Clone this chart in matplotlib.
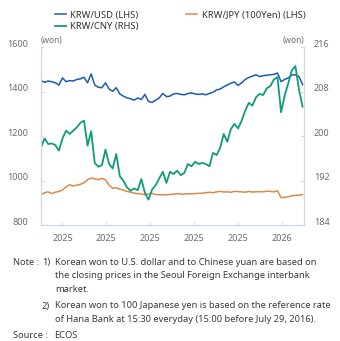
import matplotlib
matplotlib.use("Agg")
import matplotlib.pyplot as plt
import matplotlib.dates as mdates
import matplotlib.transforms as mtransforms
import pandas as pd

plt.rcParams["font.family"] = ["Noto Sans", "DejaVu Sans"]

# every 5 days, 2025-01-30 .. 2026-02-01
dates = pd.date_range("2025-01-30", periods=74, freq="5D")

usd = [1450, 1442, 1448, 1445, 1440, 1430, 1462, 1445, 1450, 1448,
       1455, 1458, 1465, 1440, 1480, 1430, 1420, 1418, 1440, 1412,
       1402, 1418, 1390, 1380, 1372, 1368, 1362, 1372, 1365, 1388,
       1356, 1352, 1362, 1372, 1392, 1378, 1380, 1390, 1392, 1388,
       1386, 1392, 1394, 1390, 1388, 1390, 1386, 1392, 1398, 1408,
       1412, 1422, 1430, 1438, 1444, 1428, 1440, 1455, 1464, 1470,
       1476, 1468, 1472, 1474, 1476, 1478, 1484, 1445, 1455, 1462,
       1475, 1476, 1468, 1432]

cny = [198.0, 199.6, 198.6, 198.7, 198.4, 197.4, 199.6, 201.0, 200.4, 201.0,
       201.6, 202.4, 202.8, 198.3, 200.9, 195.2, 194.5, 194.8, 197.6, 195.0,
       194.2, 196.8, 192.8, 192.0, 190.8, 190.2, 190.6, 190.3, 192.3, 189.8,
       188.6, 190.4, 191.2, 192.4, 193.6, 191.6, 193.6, 193.2, 193.8, 193.0,
       193.4, 195.0, 194.6, 195.4, 195.0, 195.2, 195.0, 194.6, 197.0, 196.6,
       197.9, 200.4, 199.0, 201.3, 202.2, 201.4, 202.8, 204.6, 206.0, 205.5,
       207.0, 207.6, 207.4, 208.6, 209.0, 210.2, 210.6, 204.3, 207.3, 209.5,
       211.8, 212.6, 208.4, 205.3]

jpy = [936, 946, 950, 942, 948, 952, 958, 972, 982, 976,
       980, 984, 990, 1005, 1012, 1008, 1005, 1010, 1004, 980,
       966, 968, 962, 958, 952, 948, 944, 942, 940, 937,
       940, 943, 938, 937, 936, 937, 938, 940, 942, 940,
       940, 941, 941, 942, 943, 944, 946, 948, 946, 950,
       952, 949, 950, 948, 952, 951, 950, 948, 952, 949,
       950, 951, 950, 953, 952, 950, 955, 924, 925, 928,
       932, 934, 935, 938]

tick_dates = ["2025-03-01", "2025-05-01", "2025-07-01", "2025-09-01",
              "2025-11-01", "2026-01-01"]

c_usd, c_cny, c_jpy = "#1c5bb0", "#119a7c", "#d98a4c"
spine_c = "#cdd8e8"
txt_c = "#6b6b6b"

fig = plt.figure(figsize=(3.4, 3.41), dpi=100)
ax = fig.add_axes([41/340, 1 - 225.2/341, 263/340, 178/341])
ax2 = ax.twinx()

l1, = ax.plot(dates, usd, color=c_usd, lw=1.1)
l3, = ax.plot(dates, jpy, color=c_jpy, lw=1.1)
l2, = ax2.plot(dates, cny, color=c_cny, lw=1.3)

ax.set_ylim(800, 1600)
ax2.set_ylim(184, 216)
ax.set_yticks([800, 1000, 1200, 1400, 1600])
ax2.set_yticks([184, 192, 200, 208, 216])
ax.set_xlim(pd.Timestamp("2025-01-30"), pd.Timestamp("2026-02-01"))
ax.set_xticks(pd.to_datetime(tick_dates))
ax.xaxis.set_major_formatter(mdates.DateFormatter("%Y"))

for a in (ax, ax2):
    for s in a.spines.values():
        s.set_color(spine_c)
        s.set_linewidth(0.8)
    a.spines["top"].set_visible(False)
    a.tick_params(direction="in", length=2.5, width=0.8, color=spine_c,
                  labelsize=6.5, labelcolor=txt_c)
ax.tick_params(axis="y", pad=9)
ax2.tick_params(axis="y", pad=7)
ax.tick_params(axis="x", pad=6)

off = mtransforms.ScaledTranslation(0, 3/72, fig.dpi_scale_trans)
for lab in ax.get_yticklabels() + ax2.get_yticklabels():
    lab.set_transform(lab.get_transform() + off)

fig.text(41/340, 1 - 40/341, "(won)", fontsize=6, color=txt_c, va="center")
fig.text(304/340, 1 - 40/341, "(won)", fontsize=6, color=txt_c, va="center", ha="right")

fig.legend([l1, l2, l3], ["KRW/USD (LHS)", "KRW/CNY (RHS)", "KRW/JPY (100Yen) (LHS)"],
           ncol=2, loc="upper left", bbox_to_anchor=(50/340, 1 - 6/341),
           frameon=False, fontsize=6.8, handlelength=1.2, handletextpad=0.45,
           columnspacing=5.0, labelspacing=0.25, borderpad=0, labelcolor="#333333")

nc = "#3a3a3a"
fs = 6.7
rows = [
    (13, 262.7, "Note :"),
    (42, 262.7, "1)"),
    (55, 262.7, "Korean won to U.S. dollar and to Chinese yuan are based on"),
    (55, 276, "the closing prices in the Seoul Foreign Exchange interbank"),
    (55, 289.3, "market."),
    (42, 306, "2)"),
    (55, 306, "Korean won to 100 Japanese yen is based on the reference rate"),
    (55, 319.3, "of Hana Bank at 15:30 everyday (15:00 before July 29, 2016)."),
    (13, 335, "Source :"),
    (54, 335, "ECOS"),
]
for x, y, s in rows:
    fig.text(x/340, 1 - y/341, s, fontsize=fs, color=nc, va="center")

fig.savefig("out.png", dpi=100)
